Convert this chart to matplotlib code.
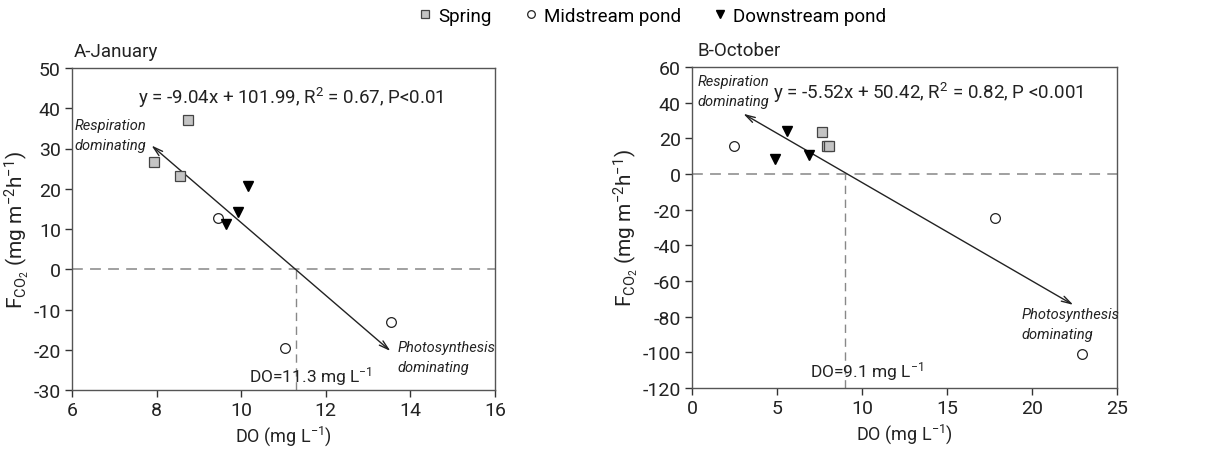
import matplotlib
matplotlib.use("Agg")
import matplotlib.pyplot as plt
from matplotlib.lines import Line2D

plt.rcParams['font.family'] = ['Roboto', 'DejaVu Sans']
plt.rcParams['mathtext.fontset'] = 'custom'
plt.rcParams['mathtext.rm'] = 'Roboto'
plt.rcParams['mathtext.it'] = 'Roboto:italic'
plt.rcParams['axes.unicode_minus'] = False

# ---- Panel A (January) ----
jan_spring_x = [7.94, 8.75, 8.56]
jan_spring_y = [26.6, 37.2, 23.2]
jan_mid_x = [9.46, 11.04, 13.55]
jan_mid_y = [12.7, -19.6, -13.1]
jan_down_x = [9.63, 9.93, 10.17]
jan_down_y = [11.2, 14.1, 20.8]
jan_slope, jan_icpt = -9.04, 101.99
jan_arrow_x = [7.88, 13.53]
jan_do0 = 11.3

# ---- Panel B (October) ----
oct_spring_x = [7.67, 7.96, 8.06]
oct_spring_y = [23.7, 15.9, 15.5]
oct_mid_x = [2.47, 17.82, 22.92]
oct_mid_y = [15.9, -24.7, -101.1]
oct_down_x = [4.88, 5.57, 6.86]
oct_down_y = [8.2, 24.3, 10.6]
oct_slope, oct_icpt = -5.52, 50.42
oct_arrow_x = [3.02, 22.43]
oct_do0 = 9.0

fig = plt.figure(figsize=(12.26, 4.6), dpi=100)
axA = fig.add_axes([0.0587, 0.150, 0.345, 0.700])
axB = fig.add_axes([0.5644, 0.1543, 0.3467, 0.698])

FS = 14
IFS = 10.5
sq_kw = dict(marker='s', ms=6.5, mfc='#c4c4c4', mec='#444444', mew=0.9, ls='none')
ci_kw = dict(marker='o', ms=7, mfc='white', mec='#222222', mew=0.9, ls='none')
tr_kw = dict(marker='v', ms=7.5, mfc='black', mec='black', ls='none')

def style(ax, xlim, ylim, xticks, yticks):
    ax.set_xlim(*xlim)
    ax.set_ylim(*ylim)
    ax.set_xticks(xticks)
    ax.set_yticks(yticks)
    ax.tick_params(direction='out', length=5, width=1, labelsize=FS, colors='#333333', labelcolor='#222222', pad=3)
    for s in ax.spines.values():
        s.set_color('#555555')
        s.set_linewidth(1.0)
    ax.set_xlabel('DO (mg L$^{-1}$)', fontsize=13, color='#222222', labelpad=3)
    ax.set_ylabel('F$_{\\mathrm{CO_2}}$ (mg m$^{-2}$h$^{-1}$)', fontsize=15, color='#222222', labelpad=2)

def panel(ax, sx, sy, mx, my, dx, dy, slope, icpt, arx, do0, ylim):
    ax.axhline(0, color='#999999', lw=1.3, ls=(0, (6, 4)), zorder=1)
    ax.plot([do0, do0], [ylim[0], 0], color='#888888', lw=1.0, ls=(0, (6, 4)), zorder=1)
    y0 = slope * arx[0] + icpt
    y1 = slope * arx[1] + icpt
    ax.annotate('', xy=(arx[0], y0), xytext=(arx[1], y1),
                arrowprops=dict(arrowstyle='<->,head_length=0.7,head_width=0.2', color='#222222', lw=1.0,
                                shrinkA=0, shrinkB=0), zorder=2)
    ax.plot(sx, sy, zorder=3, **sq_kw)
    ax.plot(mx, my, zorder=3, **ci_kw)
    ax.plot(dx, dy, zorder=3, **tr_kw)

# Panel A
panel(axA, jan_spring_x, jan_spring_y, jan_mid_x, jan_mid_y, jan_down_x, jan_down_y,
      jan_slope, jan_icpt, jan_arrow_x, jan_do0, (-30, 50))
style(axA, (6, 16), (-30, 50), range(6, 17, 2), range(-30, 51, 10))
axA.text(7.56, 42.8, 'y = -9.04x + 101.99, R$^2$ = 0.67, P<0.01', fontsize=13.5, va='center', ha='left', color='#222222')
axA.text(7.75, 33.4, 'Respiration\ndominating', fontsize=IFS, style='italic', ha='right', va='center',
         linespacing=1.5, color='#222222')
axA.text(13.7, -21.8, 'Photosynthesis\ndominating', fontsize=IFS, style='italic', ha='left', va='center',
         linespacing=1.5, color='#222222')
axA.text(10.19, -26.5, 'DO=11.3 mg L$^{-1}$', fontsize=12.5, ha='left', va='center', color='#222222')
axA.text(0.005, 1.025, 'A-January', transform=axA.transAxes, fontsize=13.5, ha='left', va='bottom', color='#222222')

# Panel B
panel(axB, oct_spring_x, oct_spring_y, oct_mid_x, oct_mid_y, oct_down_x, oct_down_y,
      oct_slope, oct_icpt, oct_arrow_x, oct_do0, (-120, 60))
style(axB, (0, 25), (-120, 60), range(0, 26, 5), range(-120, 61, 20))
axB.text(4.75, 46.0, 'y = -5.52x + 50.42, R$^2$ = 0.82, P <0.001', fontsize=13.5, va='center', ha='left', color='#222222')
axB.text(0.35, 46.5, 'Respiration\ndominating', fontsize=IFS, style='italic', ha='left', va='center',
         linespacing=1.5, color='#222222')
axB.text(19.4, -84, 'Photosynthesis\ndominating', fontsize=IFS, style='italic', ha='left', va='center',
         linespacing=1.5, color='#222222')
axB.text(6.94, -110, 'DO=9.1 mg L$^{-1}$', fontsize=12.5, ha='left', va='center', color='#222222')
axB.text(0.012, 1.025, 'B-October', transform=axB.transAxes, fontsize=13.5, ha='left', va='bottom', color='#222222')

handles = [Line2D([], [], marker='s', ms=5.5, mfc='#c4c4c4', mec='#444444', mew=0.9, ls='none'),
           Line2D([], [], marker='o', ms=5.5, mfc='white', mec='#222222', mew=0.9, ls='none'),
           Line2D([], [], marker='v', ms=6, mfc='black', mec='black', ls='none')]
fig.legend(handles, ['Spring', 'Midstream pond', 'Downstream pond'], loc='upper center',
           bbox_to_anchor=(0.531, 1.02), ncol=3, frameon=False, fontsize=13.5,
           handletextpad=0.2, columnspacing=1.6, handlelength=1.0)

fig.savefig('out.png', dpi=100, facecolor='white')
